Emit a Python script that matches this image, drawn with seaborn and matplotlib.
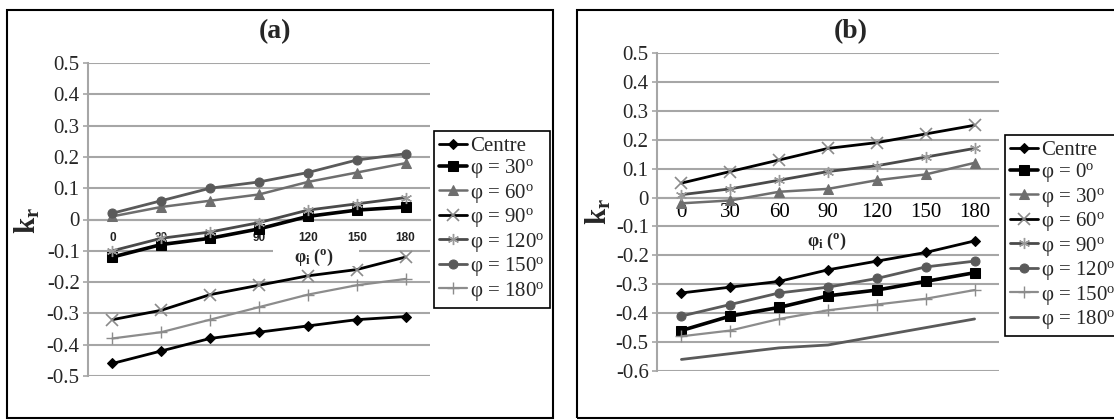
import numpy as np
import pandas as pd
import matplotlib
matplotlib.use("Agg")
import matplotlib.pyplot as plt
import seaborn as sns
from matplotlib.patches import Rectangle
from matplotlib.ticker import FixedLocator

# ---------------- data ----------------
cats = ["0", "30", "60", "90", "120", "150", "180"]

a_labels = ["Centre", "φ = 30$^{\\mathrm{o}}$", "φ = 60$^{\\mathrm{o}}$", "φ = 90$^{\\mathrm{o}}$",
            "φ = 120$^{\\mathrm{o}}$", "φ = 150$^{\\mathrm{o}}$", "φ = 180$^{\\mathrm{o}}$"]
a_centre = [-0.46, -0.42, -0.38, -0.36, -0.34, -0.32, -0.31]
a_30 = [-0.12, -0.08, -0.06, -0.03, 0.01, 0.03, 0.04]
a_60 = [0.01, 0.04, 0.06, 0.08, 0.12, 0.15, 0.18]
a_90 = [-0.32, -0.29, -0.24, -0.21, -0.18, -0.16, -0.12]
a_120 = [-0.10, -0.06, -0.04, -0.01, 0.03, 0.05, 0.07]
a_150 = [0.02, 0.06, 0.10, 0.12, 0.15, 0.19, 0.21]
a_180 = [-0.38, -0.36, -0.32, -0.28, -0.24, -0.21, -0.19]

b_labels = ["Centre", "φ = 0$^{\\mathrm{o}}$", "φ = 30$^{\\mathrm{o}}$", "φ = 60$^{\\mathrm{o}}$",
            "φ = 90$^{\\mathrm{o}}$", "φ = 120$^{\\mathrm{o}}$", "φ = 150$^{\\mathrm{o}}$",
            "φ = 180$^{\\mathrm{o}}$"]
b_centre = [-0.33, -0.31, -0.29, -0.25, -0.22, -0.19, -0.15]
b_0 = [-0.46, -0.41, -0.38, -0.34, -0.32, -0.29, -0.26]
b_30 = [-0.02, -0.01, 0.02, 0.03, 0.06, 0.08, 0.12]
b_60 = [0.05, 0.09, 0.13, 0.17, 0.19, 0.22, 0.25]
b_90 = [0.01, 0.03, 0.06, 0.09, 0.11, 0.14, 0.17]
b_120 = [-0.41, -0.37, -0.33, -0.31, -0.28, -0.24, -0.22]
b_150 = [-0.48, -0.46, -0.42, -0.39, -0.37, -0.35, -0.32]
b_180 = [-0.56, -0.54, -0.52, -0.51, -0.48, -0.45, -0.42]

# ---------------- styles ----------------
sns.set_style("white")
plt.rcParams["font.family"] = ["Liberation Serif", "DejaVu Serif"]
plt.rcParams["mathtext.fontset"] = "custom"
plt.rcParams["mathtext.rm"] = "Liberation Serif"
plt.rcParams["mathtext.it"] = "Liberation Serif:italic"
plt.rcParams["mathtext.bf"] = "Liberation Serif:bold"
plt.rcParams["axes.unicode_minus"] = False

GRID = "#a6a6a6"
st_centre = dict(color="black", lw=2.0, marker="D", ms=5, mec="black", mfc="black")
st_sq = dict(color="black", lw=2.6, marker="s", ms=7, mec="black", mfc="black")
st_tri = dict(color="#6e6e6e", lw=1.8, marker="^", ms=6.5, mec="#6e6e6e", mfc="#6e6e6e")
st_x = dict(color="black", lw=2.0, marker="x", ms=8, mew=1.2, mec="#8a8a8a")
st_star = dict(color="#4a4a4a", lw=2.0, marker=(6, 2, 0), ms=8, mew=1.0, mec="#9a9a9a")
st_circ = dict(color="#5a5a5a", lw=2.0, marker="o", ms=6.5, mec="#5a5a5a", mfc="#5a5a5a")
st_plus = dict(color="#8c8c8c", lw=1.6, marker="+", ms=8, mew=1.0, mec="#8c8c8c")
st_plain = dict(color="#5a5a5a", lw=2.0)

W, H = 1114, 420
fig = plt.figure(figsize=(W / 100, H / 100), dpi=100)


def fx(px):
    return px / W


def fy(py):
    return 1 - py / H


def fmt(v):
    v = round(float(v), 1)
    if abs(v) < 1e-9:
        return "0"
    return "%g" % v


def setup(ax, ylim, yticks, xfont, xpad):
    ax.set_xlim(-0.5, 6.5)
    ax.set_ylim(*ylim)
    ax.set_yticks(yticks)
    ax.set_yticklabels([fmt(v) for v in yticks])
    ax.yaxis.grid(True, color=GRID, lw=1.5)
    ax.xaxis.grid(False)
    ax.set_axisbelow(True)
    for s in ["top", "right"]:
        ax.spines[s].set_visible(False)
    ax.spines["left"].set_color(GRID)
    ax.spines["left"].set_linewidth(1.5)
    ax.spines["bottom"].set_position(("data", 0))
    ax.spines["bottom"].set_color(GRID)
    ax.spines["bottom"].set_linewidth(1.5)
    ax.set_xticks(range(len(cats)))
    ax.set_xticklabels(cats, fontdict=xfont)
    ax.xaxis.set_minor_locator(FixedLocator(np.arange(-0.5, 7.0, 1.0)))
    ax.tick_params(axis="x", which="major", length=0, pad=xpad)
    ax.tick_params(axis="x", which="minor", length=4, width=1.2, color=GRID, direction="out")
    ax.tick_params(axis="y", length=3.5, width=1.2, color=GRID, labelsize=15, pad=2.5,
                   left=True)
    ax.set_xlabel("")
    ax.set_ylabel("")


def legend(ax, x, y):
    leg = ax.legend(loc="upper left", bbox_to_anchor=(fx(x), fy(y)),
                    bbox_transform=fig.transFigure, fontsize=15, frameon=True,
                    fancybox=False, framealpha=1, edgecolor="black", borderpad=0.25,
                    labelspacing=0.07, handlelength=1.35, handletextpad=0.15,
                    borderaxespad=0)
    leg.get_frame().set_linewidth(1.2)


# ---------------- panel (a) ----------------
axA = fig.add_axes([fx(88), fy(376), 342 / W, (376 - 63) / H])
a_series = [a_centre, a_30, a_60, a_90, a_120, a_150, a_180]
a_styles = [st_centre, st_sq, st_tri, st_x, st_star, st_circ, st_plus]
for lab, vals, st in zip(a_labels, a_series, a_styles):
    sns.lineplot(x=cats, y=vals, ax=axA, label=lab, sort=False, zorder=3, **st)
setup(axA, (-0.5, 0.5), np.round(np.arange(-0.5, 0.51, 0.1), 1),
      dict(family="Liberation Sans", weight="bold", size=8.5, color="#222222"), 9)
legend(axA, 434, 131)

# ---------------- panel (b) ----------------
axB = fig.add_axes([fx(657), fy(371), 342 / W, (371 - 53) / H])
b_series = [b_centre, b_0, b_30, b_60, b_90, b_120, b_150, b_180]
b_styles = [st_centre, st_sq, st_tri, st_x, st_star, st_circ, st_plus, st_plain]
for lab, vals, st in zip(b_labels, b_series, b_styles):
    sns.lineplot(x=cats, y=vals, ax=axB, label=lab, sort=False, zorder=3, **st)
setup(axB, (-0.6, 0.5), np.round(np.arange(-0.6, 0.51, 0.1), 1),
      dict(family="Liberation Serif", size=15, color="black"), 4)
legend(axB, 1005, 135)

# ---------------- frames, titles, axis labels ----------------
fig.add_artist(Rectangle((fx(7), fy(418)), (553 - 7) / W, (418 - 10) / H, fill=False,
                         ec="black", lw=1.5, transform=fig.transFigure))
fig.add_artist(Rectangle((fx(577), fy(418)), (1130 - 577) / W, (418 - 10) / H, fill=False,
                         ec="black", lw=1.5, transform=fig.transFigure))

fig.text(fx(275), fy(32), "(a)", ha="center", va="center", fontsize=20, fontweight="bold")
fig.text(fx(851), fy(32), "(b)", ha="center", va="center", fontsize=20, fontweight="bold")

fig.text(fx(27), fy(220), r"$\mathbf{k}_{\mathbf{r}}$", rotation=90, ha="center",
         va="center", fontsize=21)
fig.text(fx(598), fy(211), r"$\mathbf{k}_{\mathbf{r}}$", rotation=90, ha="center",
         va="center", fontsize=21)

# white patch behind the x-axis title of panel (a)
fig.add_artist(Rectangle((fx(273), fy(266)), (359 - 273) / W, (266 - 244) / H, fc="white",
                         ec="none", transform=fig.transFigure, zorder=2))
xlab = "φ$_{\\mathbf{i}}$ ($^{\\mathbf{o}}$)"
fig.text(fx(314), fy(257), xlab, ha="center", va="center", fontsize=13,
         fontweight="bold", zorder=4)
fig.text(fx(827), fy(241), xlab, ha="center", va="center", fontsize=13,
         fontweight="bold", zorder=4)

fig.savefig("out.png", dpi=100)
